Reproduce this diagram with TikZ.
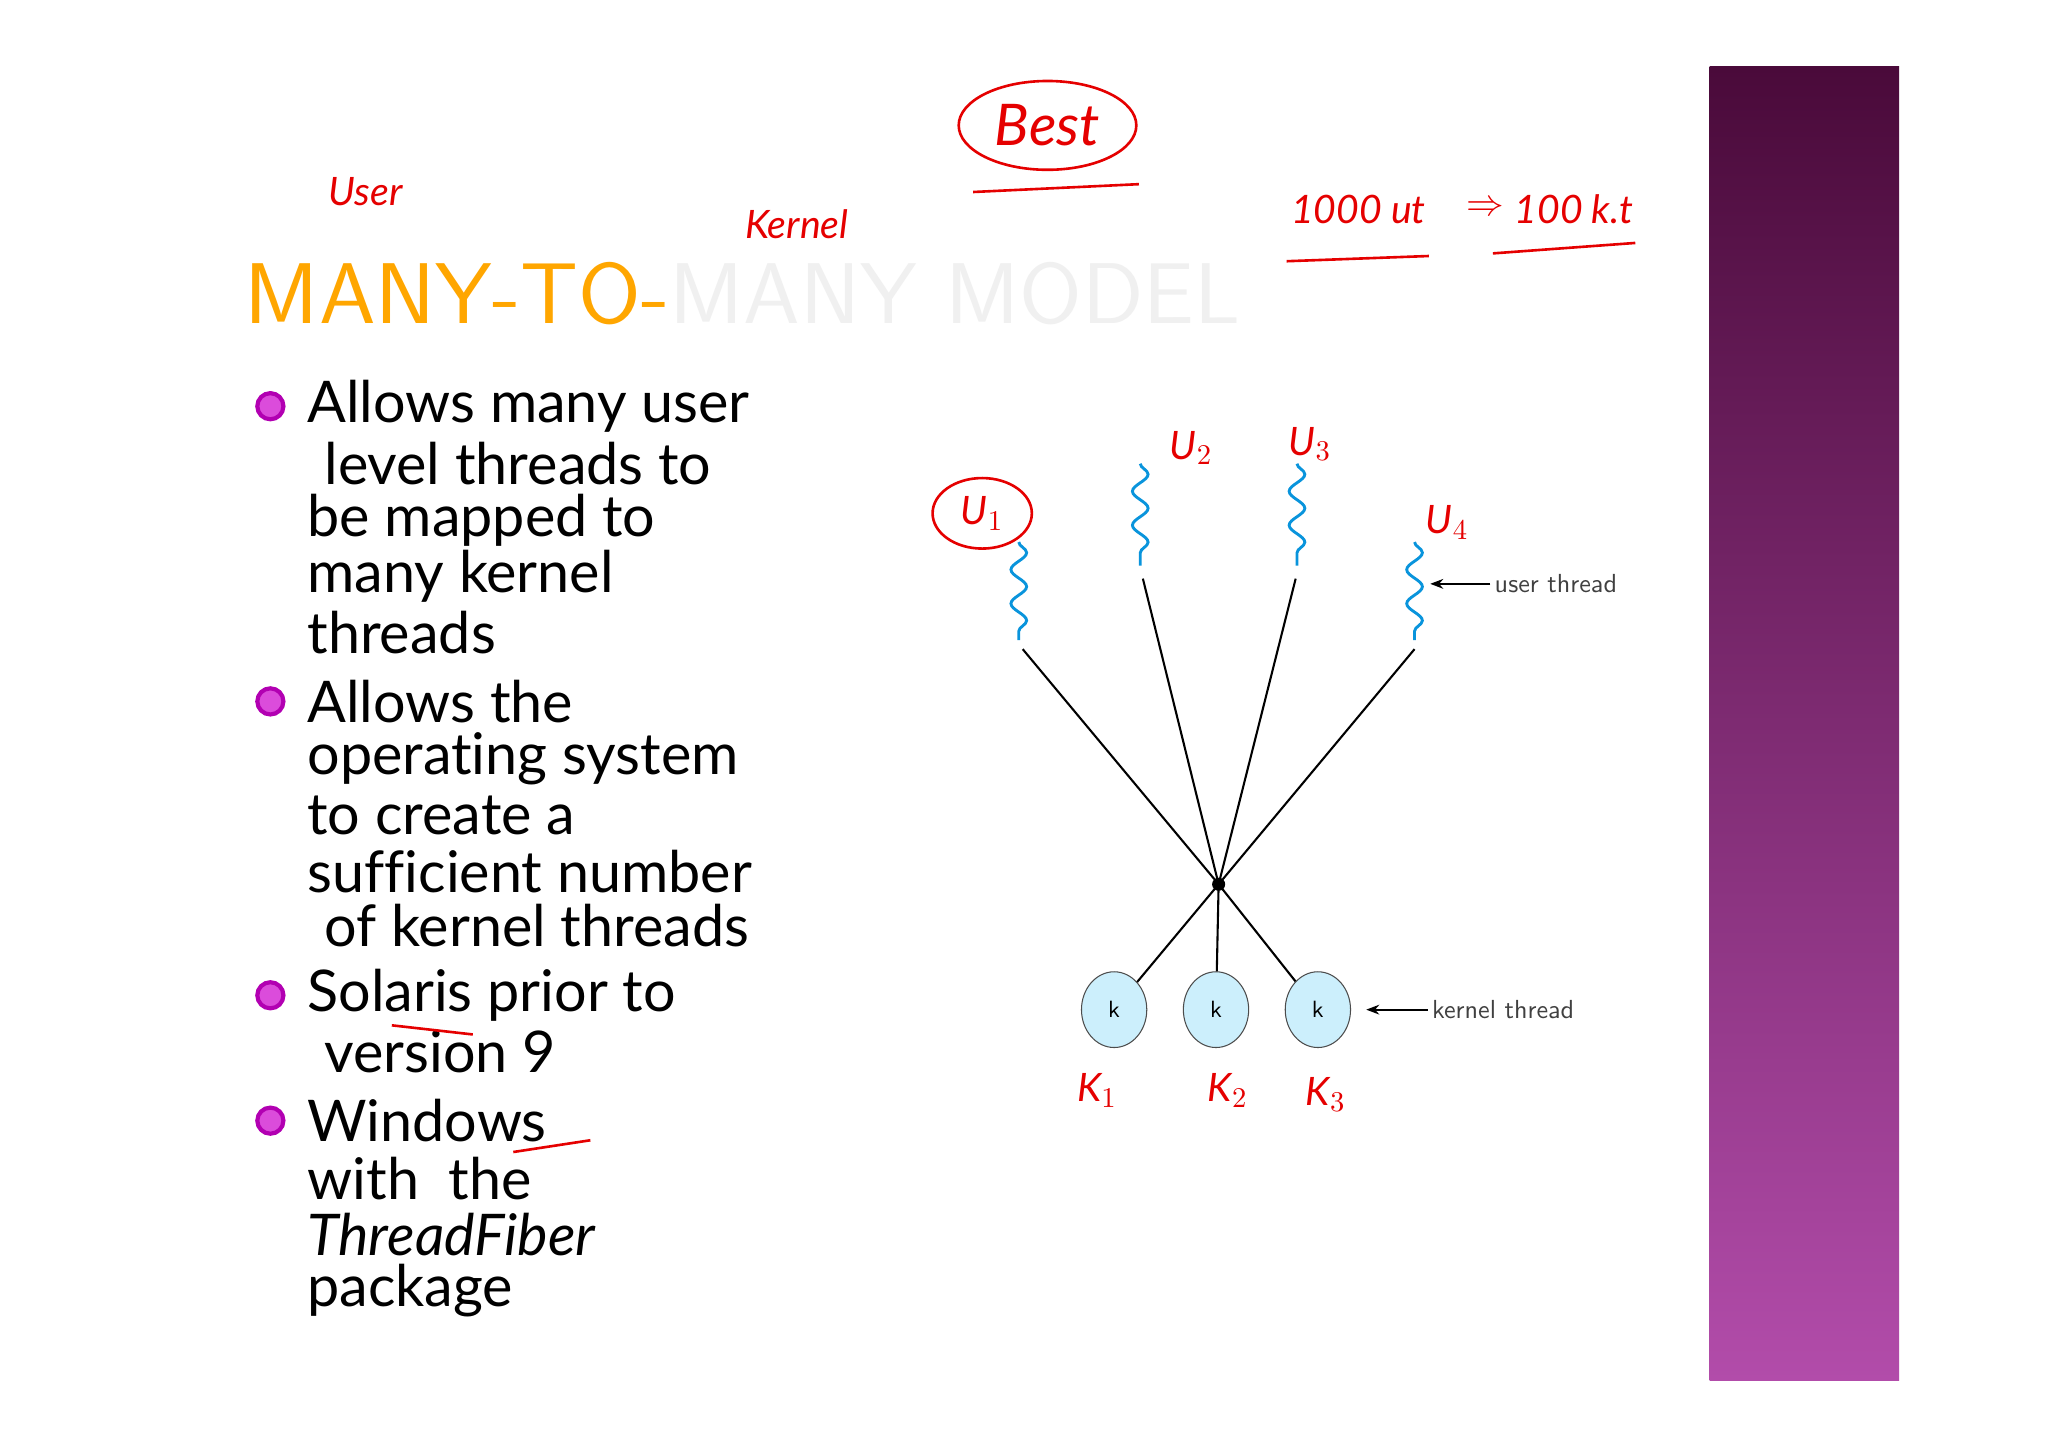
\documentclass[tikz,border=0pt]{standalone}
\usepackage{fontspec}
\setmainfont{Lato}[Ligatures=NoCommon]
\usetikzlibrary{decorations.pathmorphing,arrows.meta,shapes.geometric}
\begin{document}
\begin{tikzpicture}[x=0.5pt,y=-0.5pt,
  body/.style={anchor=west,inner sep=0,font=\fontsize{22}{22}\selectfont},
  hand/.style={red!90!black,font=\itshape\fontsize{15}{15}\selectfont,inner sep=0},
  ann/.style={red!90!black,line width=1pt},
  wave/.style={draw=cyan!80!blue,line width=1.1pt,decorate,decoration={snake,amplitude=3pt,segment length=13pt}},
  kline/.style={line width=0.8pt},
  knode/.style={ellipse,draw=black!70,fill=cyan!20,minimum width=25pt,minimum height=29pt,inner sep=0,font=\sffamily\fontsize{9}{9}\selectfont},
  lbl/.style={anchor=west,inner sep=0,font=\sffamily\fontsize{10}{10}\selectfont,text=black!75},
  bullet/.style={circle,draw=violet!60!magenta,line width=1.6pt,fill=violet!40!magenta!70,minimum size=10pt,inner sep=0}]
\useasboundingbox (0,0) rectangle (1568,1108.6);
\fill[white] (0,0) rectangle (1568,1108.6);
% purple bar
\shade[top color={rgb,255:red,74;green,10;blue,58},bottom color={rgb,255:red,178;green,76;blue,170}] (1309,51) rectangle (1454,1057);
% title
\node[anchor=west,inner sep=0,font=\sffamily\fontsize{33}{33}\selectfont,xscale=1.05] (title) at (187,225)
 {\textcolor{orange!70!yellow}{MANY-TO-}\textcolor{black!6}{MANY MODEL}};
% bullets & text
\foreach \y/\n in {311/b1,537/b2,762/b3,858/b4} \node[bullet] (\n) at (207,\y) {};
\node[body] (t1) at (235,311) {Allows many user};
\node[body] (t2) at (248,355) {level threads to};
\node[body] (t3) at (235,398) {be mapped to};
\node[body] (t4) at (235,441) {many kernel};
\node[body] (t5) at (235,484) {threads};
\node[body] (t6) at (235,537) {Allows the};
\node[body] (t7) at (235,581) {operating system};
\node[body] (t8) at (235,624) {to create a};
\node[body] (t9) at (235,667) {sufficient number};
\node[body] (t10) at (248,709) {of kernel threads};
\node[body] (t11) at (235,762) {Solaris prior to};
\node[body] (t12) at (248,805) {version 9};
\node[body] (t13) at (235,858) {Windows};
\node[body] (t14) at (235,902) {with\ \ the};
\node[body] (t15) at (235,945) {\itshape ThreadFiber};
\node[body] (t16) at (235,988) {package};
% diagram
\coordinate (c) at (933,677);
\fill (c) circle (5);
\foreach \x/\a/\b/\n in {780/415/490/w1,873/355/433/w2,993/355/433/w3,1083/415/490/w4}
  \draw[wave] (\x,\a) -- (\x,\b) coordinate (\n);
\coordinate (e1) at (783,497);\coordinate (e2) at (875,443);
\coordinate (e3) at (992,443);\coordinate (e4) at (1083,497);
\foreach \n in {e1,e2,e3,e4} \draw[kline] (\n) -- (c);
\node[knode] (k1) at (853,773) {k};
\node[knode] (k2) at (931,773) {k};
\node[knode] (k3) at (1009,773) {k};
\foreach \n in {k1,k2,k3} \draw[kline] (c) -- (\n);
\node[lbl] (ut) at (1144,447) {user thread};
\coordinate (uta) at (1095,447);
\draw[-{Stealth[length=5pt]},line width=0.8pt] (ut.west) ++(-3,0) -- (uta);
\node[lbl] (kt) at (1096,773) {kernel thread};
\coordinate (kta) at (1046,773);
\draw[-{Stealth[length=5pt]},line width=0.8pt] (kt.west) ++(-3,0) -- (kta);
% annotations
\node[hand] (au) at (280,147) {User};
\node[hand] (ak) at (610,172) {Kernel};
\node[hand,font=\itshape\fontsize{22}{22}\selectfont] (ab) at (802,96) {Best};
\draw[ann] (ab) ellipse (68 and 34);
\draw[ann] (745,147) -- (872,141);
\node[hand] (a1) at (1040,160) {1000 ut};
\node[hand,font=\fontsize{15}{15}\selectfont] (ar) at (1137,160) {$\Rightarrow$};
\node[hand] (a2) at (1205,160) {100 k.t};
\draw[ann] (985,200) -- (1094,196);
\draw[ann] (1143,194) -- (1252,186);
\node[hand] (u1) at (752,393) {U$_1$};
\draw[ann] (u1) ellipse (38 and 27);
\node[hand] (u2) at (912,343) {U$_2$};
\node[hand] (u3) at (1003,340) {U$_3$};
\node[hand] (u4) at (1108,400) {U$_4$};
\node[hand] (ka) at (840,835) {K$_1$};
\node[hand] (kb) at (940,835) {K$_2$};
\node[hand] (kc) at (1015,838) {K$_3$};
\draw[ann] (300,785) -- (362,792);
\draw[ann] (393,882) -- (452,873);
\end{tikzpicture}
\end{document}
